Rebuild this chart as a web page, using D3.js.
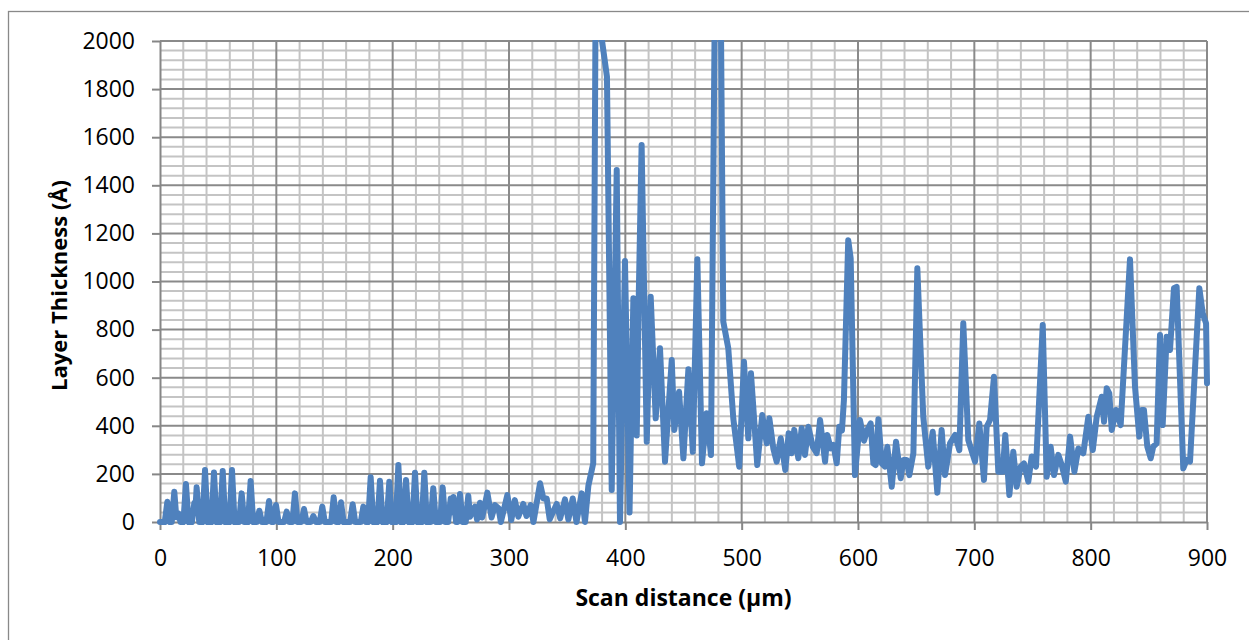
<!DOCTYPE html>
<html>
<head>
<meta charset="utf-8">
<script src="https://cdn.jsdelivr.net/npm/d3@7"></script>
<style>
  html, body { margin: 0; padding: 0; background: #ffffff; }
  svg { display: block; font-family: "Open Sans", Carlito, Calibri, sans-serif; }
</style>
</head>
<body>
<svg id="chart" width="1249" height="640"></svg>
<script>
// Thickness profile along the scan line: [scan distance (µm), layer thickness (Å)]
const lowRegion = [
  [0, 0], [4.1, 0], [6.3, 84], [8.5, 0], [10.1, 0], [12.3, 126], [14, 20], [15.8, 36], [17.6, 0],
  [20.1, 0], [22.3, 158], [24.5, 0], [27.4, 0], [29.5, 80], [30.3, 40], [31.5, 144], [33.7, 0],
  [36.5, 0], [38.7, 216], [40.9, 0], [44.2, 0], [46.4, 206], [48.6, 0],
  [51.7, 0], [53.9, 212], [56.1, 0], [59.7, 0], [61.9, 216], [64.1, 0],
  [68, 0], [70.2, 119], [72.4, 0], [75.7, 0], [77.9, 170], [80.1, 0],
  [83.2, 0], [85.4, 47], [87.6, 0], [91.5, 0], [93.7, 87], [95.9, 0],
  [97.5, 0], [99.7, 71], [101.9, 0], [106.7, 0], [108.9, 43], [111.1, 0],
  [113.8, 0], [116, 119], [118.2, 0], [121.6, 0], [123.8, 54], [126, 0],
  [129.6, 0], [131.8, 25], [134, 0], [137.3, 0], [139.5, 64], [141.7, 0],
  [147.1, 0], [149.3, 103], [151.5, 0], [153.4, 0], [155.6, 82], [157.8, 0],
  [163.4, 0], [165.6, 74], [167.8, 0], [172.6, 0], [174.8, 64], [177, 0],
  [178.9, 0], [181.1, 186], [183.3, 0], [186.9, 0], [189.1, 172], [191.3, 0],
  [194.9, 0], [197.1, 167], [199.3, 0], [202.7, 0], [204.9, 237], [207.1, 0],
  [209.3, 0], [211.5, 175], [213.7, 0], [217, 0], [219.2, 205], [221.4, 0],
  [225, 0], [227.2, 205], [229.4, 0], [232.7, 0], [234.9, 140], [237.1, 0],
  [240.8, 0], [243, 144], [245.2, 0], [247.7, 0], [249.9, 98], [251, 40], [252.3, 104], [254.5, 0],
  [255.7, 0], [257.9, 116], [260.1, 0], [262.8, 0], [265, 109], [266.5, 22],
  [270.8, 64], [272.5, 10], [275, 80], [277, 19], [281.4, 122], [285, 19], [288, 70], [291, 57], [293, 0],
  [298.6, 112], [302, 8], [305, 91], [308, 22], [312.3, 75], [315, 25], [318.6, 70], [321, 0],
  [326.7, 161], [329.5, 98], [332.4, 98], [335, 11], [341, 75], [344, 15], [348.1, 94], [351, 10],
  [354.8, 98], [358, 0], [362.5, 119], [365.3, 0], [368.2, 150], [372.4, 244]
];

const burstRegion = [
  [375, 2700], [378, 2070], [384.2, 1852], [388.3, 133], [392.6, 1464], [395.4, 0],
  [399.7, 1085], [403.6, 40], [406.9, 930], [409.8, 360], [411.5, 930], [414, 1568],
  [418.4, 334], [421.8, 937], [426.1, 431], [429.8, 722], [434.1, 251], [439.9, 674],
  [442.1, 383], [446.2, 542], [449.9, 265], [454.2, 635], [458, 292], [461.9, 1092],
  [465.9, 244], [469.9, 452], [473.6, 279], [477, 2200], [481.5, 2500], [484.2, 833],
  [488.5, 722], [492.8, 431], [497.9, 230], [502, 666], [505.7, 348], [508, 618],
  [513.4, 237], [517.7, 445]
];

const tailRegion = [
  [521.5, 327], [523.8, 431], [527.2, 306], [530.1, 251], [533.6, 348], [537.5, 216],
  [540.4, 369], [543, 286], [545.2, 383], [548.7, 265], [551.6, 390], [554.4, 279],
  [557.3, 396], [561.1, 313], [564.5, 286], [567.4, 424], [571.7, 251], [573.6, 362],
  [576.5, 306], [578.9, 320], [581.7, 244], [583.9, 396], [586.2, 380], [587.9, 507],
  [591.6, 1172], [593.7, 1096], [597.4, 195], [601.7, 424], [605.2, 338], [608, 383],
  [610.9, 410], [613.2, 244], [615.2, 237], [617.5, 427], [620.4, 244], [623.2, 230],
  [625.2, 313], [629, 147], [632.7, 334], [636.7, 182], [639, 258], [641.9, 258],
  [644.1, 195], [647.6, 286], [651, 1055], [656.1, 438], [660.4, 230], [664.2, 375],
  [668.2, 122], [671.9, 383], [674.8, 195], [679.1, 327], [683.4, 362], [687.1, 299],
  [690.5, 826], [694.8, 341], [700.6, 251], [704.3, 410], [708.3, 175], [710.6, 396],
  [713.5, 424], [716.9, 604], [720.6, 209], [724.4, 209], [726.6, 362], [730.1, 112],
  [733.5, 292], [736.4, 147], [739.9, 230], [742.7, 244], [746.4, 168], [749.3, 272],
  [753, 230], [758.8, 819], [762.2, 188], [765.6, 313], [768.5, 195], [772.2, 279],
  [775.1, 237], [778.6, 168], [782.3, 355], [786, 209], [789.4, 306], [793.7, 286],
  [798, 438], [801.8, 299], [805.2, 438], [809.5, 521], [811.5, 417], [813.8, 556],
  [816, 535], [818.1, 383], [821.8, 466], [825.8, 403], [833.8, 1092], [838.1, 563],
  [841.8, 355], [843.9, 466], [845.8, 466], [848.7, 313], [851.6, 265], [853.8, 313],
  [856.7, 327], [859.6, 778], [861.9, 403], [865.3, 770], [868.2, 715], [871.6, 972],
  [873.9, 978], [879.6, 223], [882.5, 258], [885.4, 251], [893.4, 972], [896.3, 868],
  [899.2, 826], [900, 577]
];

const xTicks = [0, 100, 200, 300, 400, 500, 600, 700, 800, 900];
const yTicks = [0, 200, 400, 600, 800, 1000, 1200, 1400, 1600, 1800, 2000];
const xMinorStep = 20;
const yMinorStep = 40;

const xTitle = "Scan distance (µm)";
const yTitle = "Layer Thickness (Å)";

const svg = d3.select("#chart");
const plot = { left: 160, right: 1207, top: 41, bottom: 522 };
const fontFamily = "'Open Sans', Carlito, Calibri, sans-serif";

const x = d3.scaleLinear().domain([0, 900]).range([plot.left, plot.right]);
const y = d3.scaleLinear().domain([0, 2000]).range([plot.bottom, plot.top]);

// chart frame (extends past the right and bottom edges)
svg.append("rect")
  .attr("x", 8.5).attr("y", 11.5)
  .attr("width", 1400).attr("height", 800)
  .attr("fill", "#ffffff")
  .attr("stroke", "#898989").attr("stroke-width", 1.3);

const grid = svg.append("g");

// minor gridlines
const xMinor = d3.range(0, 900 + 1e-9, xMinorStep).filter(v => v % 100 !== 0);
const yMinor = d3.range(0, 2000 + 1e-9, yMinorStep).filter(v => v % 200 !== 0);

grid.selectAll("line.xminor").data(xMinor).join("line")
  .attr("x1", d => x(d)).attr("x2", d => x(d))
  .attr("y1", plot.top).attr("y2", plot.bottom)
  .attr("stroke", "#c4c4c4").attr("stroke-width", 2);
grid.selectAll("line.yminor").data(yMinor).join("line")
  .attr("x1", plot.left).attr("x2", plot.right)
  .attr("y1", d => y(d)).attr("y2", d => y(d))
  .attr("stroke", "#c4c4c4").attr("stroke-width", 2);

// major gridlines
grid.selectAll("line.xmajor").data(xTicks.slice(1)).join("line")
  .attr("x1", d => x(d)).attr("x2", d => x(d))
  .attr("y1", plot.top).attr("y2", plot.bottom)
  .attr("stroke", "#8a8a8a").attr("stroke-width", 2);
grid.selectAll("line.ymajor").data(yTicks.slice(1)).join("line")
  .attr("x1", plot.left).attr("x2", plot.right)
  .attr("y1", d => y(d)).attr("y2", d => y(d))
  .attr("stroke", "#8a8a8a").attr("stroke-width", 2);

// axes
const xAxis = d3.axisBottom(x).tickValues(xTicks).tickFormat(d3.format("d"))
  .tickSize(8).tickSizeOuter(0).tickPadding(20);
const yAxis = d3.axisLeft(y).tickValues(yTicks).tickFormat(d3.format("d"))
  .tickSize(8).tickSizeOuter(0).tickPadding(17);

const gx = svg.append("g").attr("transform", `translate(0,${plot.bottom})`).call(xAxis);
const gy = svg.append("g").attr("transform", `translate(${plot.left},0)`).call(yAxis);

[gx, gy].forEach(g => {
  g.select(".domain").attr("stroke", "#868686").attr("stroke-width", 2);
  g.selectAll(".tick line").attr("stroke", "#868686").attr("stroke-width", 2);
  g.selectAll(".tick text")
    .attr("fill", "#000000")
    .style("font-family", fontFamily)
    .style("font-size", "23px");
});
gx.selectAll(".tick text").attr("dy", "0.71em");
gy.selectAll(".tick text").attr("dy", "0.32em");

// data line, clipped to the plot area
svg.append("clipPath").attr("id", "plotClip")
  .append("rect")
  .attr("x", plot.left - 6).attr("y", plot.top - 1)
  .attr("width", plot.right - plot.left + 12)
  .attr("height", plot.bottom - plot.top + 10);

const points = lowRegion.concat(burstRegion, tailRegion);
const line = d3.line().x(d => x(d[0])).y(d => y(d[1]));

svg.append("path")
  .datum(points)
  .attr("clip-path", "url(#plotClip)")
  .attr("d", line)
  .attr("fill", "none")
  .attr("stroke", "#4f81bd")
  .attr("stroke-width", 6)
  .attr("stroke-linejoin", "round")
  .attr("stroke-linecap", "round");

// axis titles
svg.append("text")
  .attr("x", (plot.left + plot.right) / 2)
  .attr("y", 606)
  .attr("text-anchor", "middle")
  .style("font-family", fontFamily)
  .style("font-size", "23px")
  .style("font-weight", "bold")
  .text(xTitle);

svg.append("text")
  .attr("transform", `translate(67,${(plot.top + plot.bottom) / 2 + 4}) rotate(-90)`)
  .attr("text-anchor", "middle")
  .style("font-family", fontFamily)
  .style("font-size", "22px")
  .style("font-weight", "bold")
  .text(yTitle);
</script>
</body>
</html>
